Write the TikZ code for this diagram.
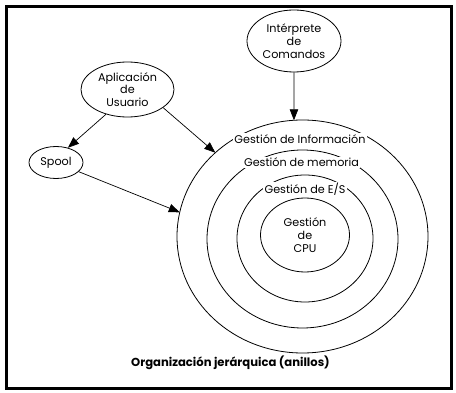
\documentclass[tikz,border=0pt]{standalone}
\usepackage{fontspec}
\setmainfont{Poppins}
\usetikzlibrary{shapes.geometric,arrows.meta,calc}
\tikzset{
  lbl/.style={font=\fontsize{11.2}{12.7}\selectfont},
  blob/.style={draw, ellipse, line width=0.8pt, inner sep=0pt, align=center, lbl},
  ring/.style={draw, line width=0.8pt},
  ringlabel/.style={fill=white, inner sep=1.2pt, lbl},
  conn/.style={draw, line width=0.7pt, -{Triangle[length=11pt,width=8.5pt]}}
}
\begin{document}
\begin{tikzpicture}[x=1pt,y=-1pt]
\useasboundingbox (0,0) rectangle (456,393);
\draw[line width=3pt] (6.5,6.5) rectangle (451,389);
% rings
\coordinate (c1) at (302.5,236.5);
\coordinate (c2) at (302.5,239);
\coordinate (c3) at (305,238.5);
\coordinate (c4) at (305,235);
\draw[ring] (c1) ellipse [x radius=125.5, y radius=116.5];
\draw[ring] (c2) ellipse [x radius=95.5, y radius=89];
\draw[ring] (c3) ellipse [x radius=68, y radius=63.5];
\draw[ring] (c4) ellipse [x radius=44.5, y radius=37];
\node[ringlabel] (l1) at (300,139) {Gestión de Información};
\node[ringlabel] (l2) at (301.5,162.5) {Gestión de memoria};
\node[ringlabel] (l3) at (305,189.5) {Gestión de E/S};
\node[align=center, lbl] (cpu) at (305,235) {Gestión\\de\\CPU};
% points on the outer ring
\coordinate (rtop) at ($(c1)+(-93.9:125.5 and 116.5)$);
\coordinate (rapl) at ($(c1)+(-134:125.5 and 116.5)$);
\coordinate (rspo) at ($(c1)+(-168:125.5 and 116.5)$);
% nodes
\node[blob, minimum width=94pt, minimum height=62pt] (interp) at (294,41) {Intérprete\\de\\Comandos};
\node[blob, minimum width=93pt, minimum height=55pt] (aplic) at (127.5,89.5) {Aplicación\\de\\Usuario};
\node[blob, minimum width=54pt, minimum height=32pt] (spool) at (56,162.5) {Spool};
% connectors
\draw[conn] (interp.south) -- (rtop);
\draw[conn] (aplic.229) -- (spool.51);
\draw[conn] (aplic.333) -- (rapl);
\draw[conn] (spool.338) -- (rspo);
\node[font=\bfseries\fontsize{11.6}{12}\selectfont] (title) at (230.5,363) {Organización jerárquica (anillos)};
\end{tikzpicture}
\end{document}
